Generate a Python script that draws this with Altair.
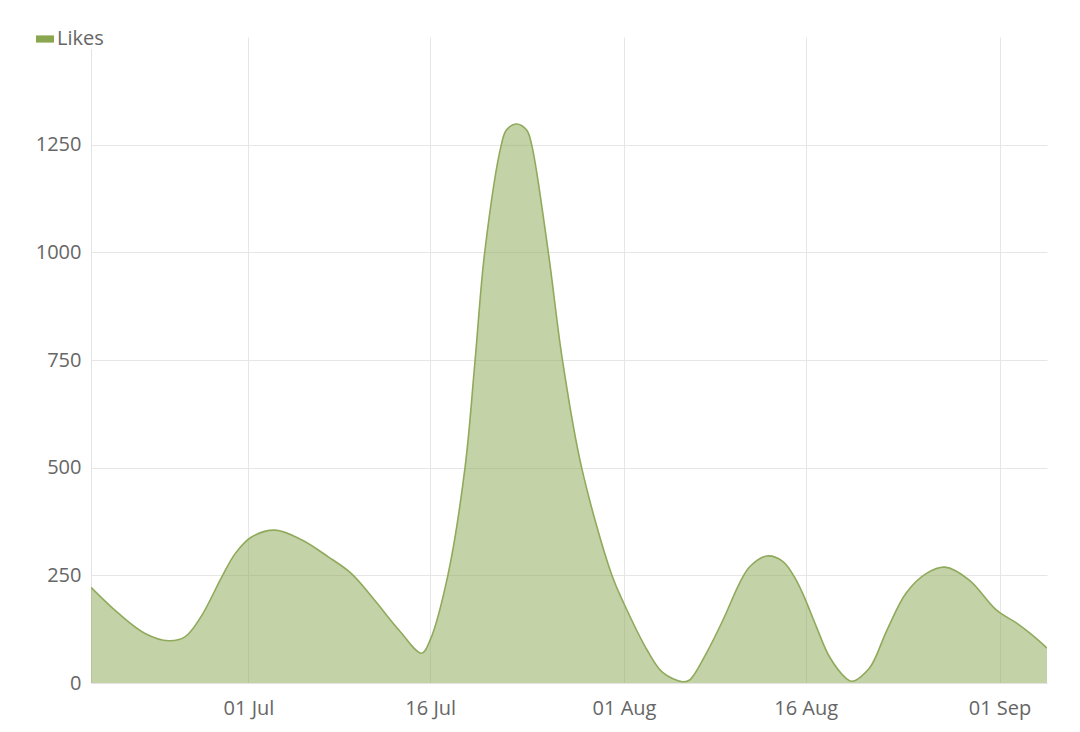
import altair as alt
import pandas as pd

# Readings of the "Likes" curve (date, value)
dates = [
    "2015-06-18T00:00", "2015-06-20T06:00", "2015-06-22T11:00", "2015-06-24T10:00",
    "2015-06-25T18:00", "2015-06-27T02:00", "2015-06-28T19:00", "2015-06-29T22:00",
    "2015-07-01T06:00", "2015-07-03T05:00", "2015-07-05T10:00", "2015-07-07T14:00",
    "2015-07-09T12:00", "2015-07-11T10:00", "2015-07-13T10:00", "2015-07-15T07:00",
    "2015-07-16T00:00", "2015-07-17T11:00", "2015-07-18T21:00", "2015-07-19T17:00",
    "2015-07-20T12:00", "2015-07-21T21:00", "2015-07-22T07:00",
    "2015-07-23T03:00", "2015-07-23T23:00", "2015-07-24T09:00",
    "2015-07-25T18:00", "2015-07-26T22:00", "2015-07-28T12:00", "2015-07-31T00:00",
    "2015-08-01T00:00", "2015-08-02T22:00", "2015-08-04T05:00", "2015-08-05T20:00",
    "2015-08-06T10:00", "2015-08-07T19:00", "2015-08-09T04:00", "2015-08-10T13:00",
    "2015-08-11T09:00", "2015-08-12T19:00", "2015-08-14T03:00", "2015-08-15T05:00",
    "2015-08-15T22:00", "2015-08-16T21:00", "2015-08-17T23:00", "2015-08-19T08:00",
    "2015-08-19T20:00", "2015-08-21T06:00", "2015-08-22T17:00", "2015-08-24T07:00",
    "2015-08-26T00:00", "2015-08-27T12:00", "2015-08-29T12:00", "2015-08-31T18:00",
    "2015-09-02T10:00", "2015-09-03T17:00", "2015-09-04T22:00",
]
likes = [
    222, 162, 115, 98,
    107, 154, 246, 301,
    339, 355, 332, 293,
    254, 192, 123, 69,
    100, 250, 500, 750,
    1000, 1250, 1284,
    1298, 1284, 1250,
    1000, 750, 500, 250,
    184, 76, 24, 3,
    7, 69, 146, 232,
    270, 295, 282, 239,
    197, 131, 61, 11,
    4, 34, 123, 209,
    255, 269, 239, 169,
    139, 111, 81,
]
series_name = "Likes"

y_ticks = [0, 250, 500, 750, 1000, 1250]
x_ticks = [(2015, 7, 1), (2015, 7, 16), (2015, 8, 1), (2015, 8, 16), (2015, 9, 1)]

df = pd.DataFrame({"date": dates, "likes": likes, "series": series_name})

GREEN = "#8aa64f"
FONT = "Open Sans"
INTERP = "catmull-rom"

x_enc = alt.X(
    "date:T",
    title=None,
    scale=alt.Scale(nice=False),
    axis=alt.Axis(
        values=[alt.DateTime(year=y, month=m, date=d) for (y, m, d) in x_ticks],
        format="%d %b",
        ticks=False,
        labelPadding=15,
        labelFontSize=20,
        labelFont=FONT,
        labelColor="#666666",
        grid=True,
        gridColor="#e6e6e6",
        domainColor="#e3e3e3",
        labelOverlap=False,
    ),
)
y_enc = alt.Y(
    "likes:Q",
    title=None,
    scale=alt.Scale(domain=[0, 1500], nice=False),
    axis=alt.Axis(
        values=y_ticks,
        format="d",
        ticks=False,
        labelPadding=10,
        labelFontSize=20,
        labelFont=FONT,
        labelColor="#666666",
        grid=True,
        gridColor="#e6e6e6",
        domainColor="#e3e3e3",
    ),
)

area = alt.Chart(df).mark_area(interpolate=INTERP, fillOpacity=0.5, clip=True).encode(
    x=x_enc,
    y=y_enc,
    color=alt.Color(
        "series:N",
        scale=alt.Scale(range=[GREEN]),
        legend=alt.Legend(
            title=None,
            orient="none",
            legendX=-56,
            legendY=-8,
            symbolType="M-1,-0.4H1V0.4H-1Z",
            symbolSize=324,
            symbolOpacity=1,
            symbolFillColor=GREEN,
            symbolStrokeWidth=0,
            labelFont=FONT,
            labelFontSize=20,
            labelColor="#666666",
            labelOffset=2,
            fillColor="white",
            padding=0,
        ),
    ),
)

line = alt.Chart(df).mark_line(
    interpolate=INTERP, color="#90aa5c", strokeWidth=1.6, clip=True
).encode(x="date:T", y="likes:Q")

chart = (
    alt.layer(area, line)
    .properties(
        width=956,
        height=646,
        padding={"left": 83, "top": 29, "right": 25, "bottom": 41},
        autosize=alt.AutoSizeParams(type="none"),
    )
    .configure_view(stroke=None)
)

chart.save("out.html", embed_options={"renderer": "svg", "actions": False})
